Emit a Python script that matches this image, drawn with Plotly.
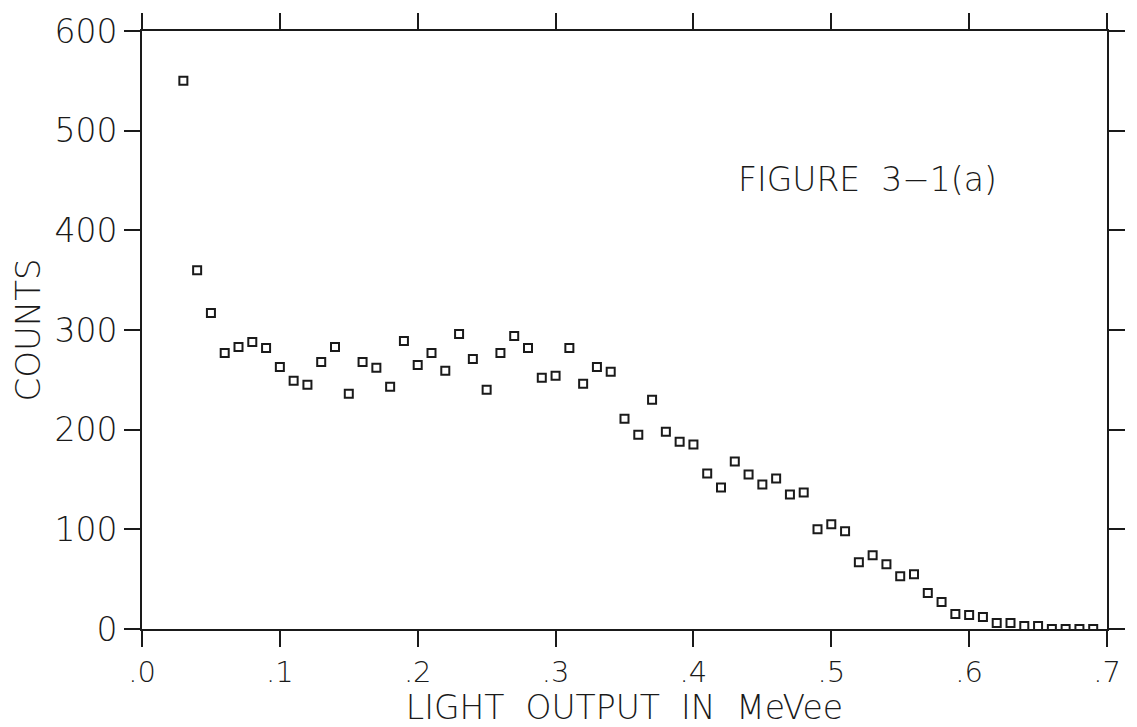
import plotly.graph_objects as go

light_output = [0.03, 0.04, 0.05, 0.06, 0.07, 0.08, 0.09, 0.10, 0.11, 0.12,
                0.13, 0.14, 0.15, 0.16, 0.17, 0.18, 0.19, 0.20, 0.21, 0.22,
                0.23, 0.24, 0.25, 0.26, 0.27, 0.28, 0.29, 0.30, 0.31, 0.32,
                0.33, 0.34, 0.35, 0.36, 0.37, 0.38, 0.39, 0.40, 0.41, 0.42,
                0.43, 0.44, 0.45, 0.46, 0.47, 0.48, 0.49, 0.50, 0.51, 0.52,
                0.53, 0.54, 0.55, 0.56, 0.57, 0.58, 0.59, 0.60, 0.61, 0.62,
                0.63, 0.64, 0.65, 0.66, 0.67, 0.68, 0.69]
counts = [550, 360, 317, 277, 283, 288, 282, 263, 249, 245,
          268, 283, 236, 268, 262, 243, 289, 265, 277, 259,
          296, 271, 240, 277, 294, 282, 252, 254, 282, 246,
          263, 258, 211, 195, 230, 198, 188, 185, 156, 142,
          168, 155, 145, 151, 135, 137, 100, 105, 98, 67,
          74, 65, 53, 55, 36, 27, 15, 14, 12, 6,
          6, 3, 3, 0, 0, 0, 0]

x_tickvals = [0.0, 0.1, 0.2, 0.3, 0.4, 0.5, 0.6, 0.7]
x_ticktext = [".0", ".1", ".2", ".3", ".4", ".5", ".6", ".7"]
y_tickvals = [0, 100, 200, 300, 400, 500, 600]
y_ticktext = ["0", "100", "200", "300", "400", "500", "600"]

FONT = "DejaVu Sans"
INK = "#1a1a1a"

fig = go.Figure()
fig.add_trace(go.Scatter(
    x=light_output, y=counts, mode="markers",
    marker=dict(symbol="square-open", size=8, color=INK, line=dict(width=2, color=INK)),
    showlegend=False,
))

fig.add_annotation(
    x=0.526, y=451, xref="x", yref="y", text="FIGURE  3\u22121(a)",
    showarrow=False, font=dict(family=FONT, size=33, color=INK, weight=200),
)

fig.update_layout(
    width=1137, height=727,
    margin=dict(l=142, r=23, t=29, b=98),
    paper_bgcolor="white", plot_bgcolor="white",
    font=dict(family=FONT, color=INK),
)
fig.update_xaxes(
    range=[0, 0.7], tickvals=x_tickvals, ticktext=x_ticktext,
    showline=True, linecolor=INK, linewidth=2, mirror="allticks",
    ticks="outside", ticklen=16, tickwidth=2, tickcolor=INK,
    showgrid=False, zeroline=False,
    tickfont=dict(family=FONT, size=29, color=INK, weight=200),
    title=dict(text="LIGHT  OUTPUT  IN  MeVee", standoff=0,
               font=dict(family=FONT, size=33, color=INK, weight=200)),
)
fig.update_yaxes(
    range=[0, 600], tickvals=y_tickvals, ticktext=y_ticktext,
    showline=True, linecolor=INK, linewidth=2, mirror="allticks",
    ticks="outside", ticklen=16, tickwidth=2, tickcolor=INK,
    showgrid=False, zeroline=False,
    tickfont=dict(family=FONT, size=33, color=INK, weight=200),
    title=dict(text="COUNTS", standoff=4,
               font=dict(family=FONT, size=34, color=INK, weight=200)),
)

fig.write_html("out.html")
